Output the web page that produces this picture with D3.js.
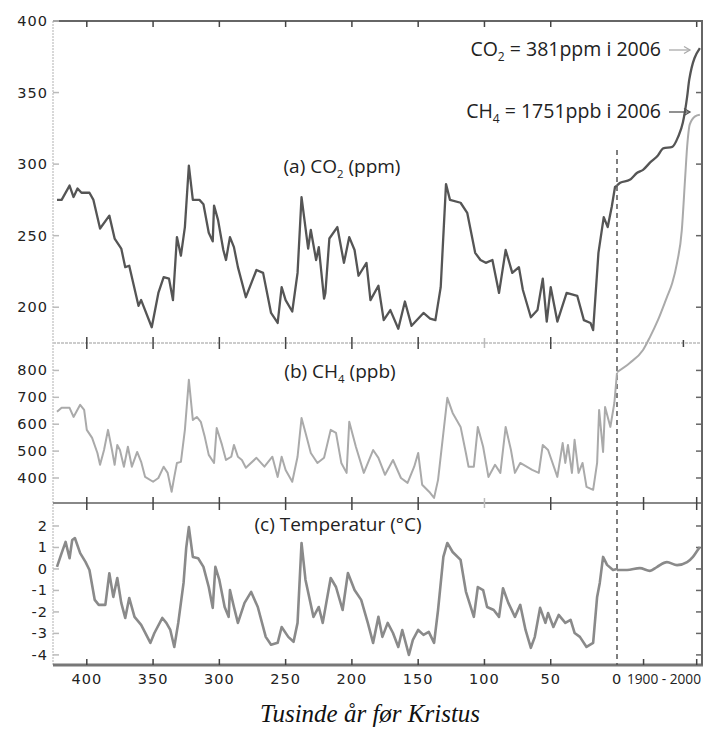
<!DOCTYPE html>
<html>
<head>
<meta charset="utf-8">
<script src="https://cdn.jsdelivr.net/npm/d3@7/dist/d3.min.js"></script>
<style>
  html, body { margin: 0; padding: 0; background: #fff; }
  svg { display: block; }
</style>
</head>
<body>
<svg id="chart" width="705" height="731"></svg>
<script>
// ---------------- DATA ----------------
const ageTicks = [400, 350, 300, 250, 200, 150, 100, 50, 0];
const yearTicks = [1900, 2000];
const co2Ticks = [200, 250, 300, 350, 400];
const ch4Ticks = [400, 500, 600, 700, 800];
const tempTicks = [-4, -3, -2, -1, 0, 1, 2];

// CO2 (ppm), ages in thousand years before present
const co2Ages = [422.5,419,413,410,407,404,398,395,390,383,379,374,371,368,361,359,351,346,342,338,335,332,329,326,323,320,315,312,308,305,304,301,297,295,292,289,286,280,272,267,261,256,253,250,245,241,238,233,231,227,225,221,220,217,211,206,202,198,195,189,186,180,176,171,165,160,155,146,141,137,133,129,126,118,113,107,103,99,94,89,84,79,74,71,65,60,56,53,50,45,38,30,25,20,18,14,10,7,4,1.5,0];
const co2Vals = [275,275,285,277,283,280,280,275,255,264,248,241,228,229,201,205,186,210,221,220,205,249,236,256,299,275,275,272,252,246,271,261,240,233,249,242,228,207,226,224,196,189,214,205,197,224,277,241,254,233,242,206,210,248,256,231,249,240,222,231,205,215,191,198,185,204,187,196,192,191,214,286,275,273,266,238,233,231,233,210,240,224,228,212,193,198,220,190,214,190,210,208,191,189,184,238,263,256,270,284,285];
const co2IndYears = [1850,1856,1874,1888,1899,1912,1927,1937,1954,1965,1974,1982,1986,2006];
const co2IndVals = [285,287,289,294,296,301,306,311,312,319,329,347,359,381];

// CH4 (ppb)
const ch4Ages = [422.5,419,413,410,405,402,400,396,392,390,387,384,381,379,377,375,372,369,366,362,359,356,350,346,342,339,336,334,332,329,326,323,320,317,314,311,308,304,302,298,295,291,289,286,283,280,272,266,260,256,253,250,245,241,238,235,231,226,221,216,212,208,204,202,197,191,184,180,175,169,163,158,153,150,147,141,138,135,128,124,118,114,112,108,105,101,97,92,88,84,80,77,73,64,59,56,52,45,41,39,37,34,32,29,26,23,18,15,13.5,10.5,9,5,2,0];
const ch4Vals = [646,661,661,627,672,653,579,549,493,449,504,579,504,449,523,504,442,516,442,497,460,404,386,400,442,419,349,404,456,460,579,765,616,627,609,553,486,456,586,523,467,479,523,479,467,438,475,442,479,404,479,430,386,479,623,568,493,456,475,579,568,456,419,609,516,419,504,475,412,467,400,382,442,493,375,345,326,393,698,642,590,493,442,442,590,516,404,449,419,590,504,419,456,430,419,523,504,404,530,456,523,419,542,419,456,367,356,456,653,497,664,590,679,791];
const ch4IndYears = [1850,1874,1899,1912,1927,1944,1954,1963,1972,1978,1982,1987,1997,2006];
const ch4IndVals = [794,828,876,924,987,1073,1125,1200,1322,1508,1631,1715,1745,1751];

// Temperature (°C)
const tempAges = [422.5,419,416,413,411,409,405,401,398,394,391,386,383,380,377,374,371,368,364,359,352,349,343,340,337,334,331,327,325,323,320,316,312,308,305,303,300,296,293,292,289,286,281,276,271,265,261,256,253,248,244,241,238,235,229,225,222,216,212,207,203,198,193,188,184,180,177,173,169,165,162,157,154,150,146,142,138,135,131,128,124,118,114,108,105,101,98,93,89,86,82,77,73,69,65,62,58,54,52,48,44,39,35,32,28,23,18,15,13,10.5,7.5,3,0];
const tempVals = [0.1,0.74,1.26,0.5,1.35,1.44,0.74,0.33,-0.05,-1.44,-1.67,-1.67,-0.2,-1.3,-0.42,-1.58,-2.28,-1.35,-2.23,-2.6,-3.44,-2.98,-2.28,-2.51,-2.84,-3.63,-2.51,-0.65,0.98,1.95,0.56,0.5,0.1,-0.84,-1.81,0.1,-0.51,-1.77,-2.23,-0.98,-1.77,-2.51,-1.58,-1.07,-1.77,-3.16,-3.53,-3.44,-2.7,-3.16,-3.39,-2.51,1.21,-0.51,-2.23,-1.77,-2.51,-0.42,-0.84,-1.91,-0.19,-0.98,-1.44,-2.51,-3.44,-2.23,-3.16,-2.51,-2.98,-3.63,-2.84,-4.0,-3.3,-2.84,-3.07,-2.93,-3.44,-1.91,0.56,1.21,0.79,0.42,-1.05,-2.23,-0.84,-0.98,-1.77,-1.91,-2.23,-0.9,-1.58,-2.23,-1.67,-2.84,-3.67,-3.16,-1.81,-2.51,-2.05,-2.7,-2.14,-2.51,-2.37,-2.98,-3.16,-3.63,-3.44,-1.3,-0.65,0.56,0.19,-0.05,0];
const tempIndYears = [1850,1869,1893,1912,1925,1944,1963,1982,1993,2002,2006];
const tempIndVals = [-0.05,-0.05,0.04,-0.09,0.09,0.32,0.18,0.32,0.56,0.88,1.02];

// ---------------- CHART ----------------
const svg = d3.select("#chart");
const L = 53, R = 702, T = 21, SEP1 = 343, SEP2 = 503, B = 665, ZERO = 617;

const xAge = d3.scaleLinear().domain([425.5, 0]).range([L, ZERO]);
const xYear = d3.scaleLinear().domain([1850, 2010]).range([ZERO, R]);
const yCO2 = d3.scaleLinear().domain([175, 400]).range([SEP1, T]);
const yCH4 = d3.scaleLinear().domain([307, 902]).range([SEP2, SEP1]);
const yTemp = d3.scaleLinear().domain([-4.47, 3.07]).range([B, SEP2]);

const tickFont = "'DejaVu Sans', Verdana, sans-serif";
const labFont = "'Open Sans', sans-serif";

// left border (light dotted)
svg.append("line").attr("x1", L).attr("x2", L).attr("y1", T).attr("y2", B)
  .attr("stroke", "#ccc").attr("stroke-width", 1.5).attr("stroke-dasharray", "2,1");

// separators
svg.append("line").attr("x1", L).attr("x2", R).attr("y1", SEP1).attr("y2", SEP1)
  .attr("stroke", "#ccc").attr("stroke-width", 2).attr("stroke-dasharray", "3,1");
svg.append("line").attr("x1", L).attr("x2", R).attr("y1", SEP2).attr("y2", SEP2)
  .attr("stroke", "#888").attr("stroke-width", 2);

// top and bottom border
svg.append("line").attr("x1", L).attr("x2", R).attr("y1", T).attr("y2", T)
  .attr("stroke", "#666").attr("stroke-width", 2);
svg.append("line").attr("x1", L).attr("x2", R + 1).attr("y1", B).attr("y2", B)
  .attr("stroke", "#777").attr("stroke-width", 3);
// right border
svg.append("line").attr("x1", R).attr("x2", R).attr("y1", T - 1).attr("y2", B)
  .attr("stroke", "#666").attr("stroke-width", 2);

// x ticks
const xTickPos = ageTicks.map(a => xAge(a));
const yearTickPos = yearTicks.map(y => xYear(y));
function vTicks(xs, y1, y2, color) {
  svg.append("g").selectAll("line").data(xs).join("line")
    .attr("x1", d => d).attr("x2", d => d).attr("y1", y1).attr("y2", y2)
    .attr("stroke", color).attr("stroke-width", 1.5);
}
vTicks(xTickPos.filter((d, i) => ageTicks[i] !== 0).concat([xYear(2000)]), T, T + 6, "#444");
vTicks(xTickPos.filter((d, i) => ageTicks[i] !== 0 && ageTicks[i] !== 100), SEP1 - 6, SEP1 + 6, "#444");
vTicks([xAge(100)], SEP1 - 5, SEP1 + 5, "#bbb");
vTicks([xYear(1975)], SEP1 - 3, SEP1 + 4, "#444");
vTicks(xTickPos.filter((d, i) => ageTicks[i] !== 0 && ageTicks[i] !== 100).concat(yearTickPos), SEP2 - 6, SEP2 + 7, "#444");
vTicks([xAge(100)], SEP2 - 5, SEP2 + 5, "#bbb");
vTicks(xTickPos.filter((d, i) => ageTicks[i] !== 0).concat(yearTickPos), B - 6, B, "#444");

// y axes (left labels + light ticks, right dark ticks)
function yAxis(scale, ticks) {
  const g = svg.append("g");
  g.selectAll("line.l").data(ticks).join("line").attr("class", "l")
    .attr("x1", L).attr("x2", L + 6).attr("y1", d => scale(d)).attr("y2", d => scale(d))
    .attr("stroke", "#bbb").attr("stroke-width", 1.5);
  g.selectAll("line.r").data(ticks).join("line").attr("class", "r")
    .attr("x1", R - 6).attr("x2", R).attr("y1", d => scale(d)).attr("y2", d => scale(d))
    .attr("stroke", "#666").attr("stroke-width", 1.5);
  g.selectAll("text").data(ticks).join("text")
    .attr("x", 48).attr("y", d => scale(d) + 5)
    .attr("text-anchor", "end")
    .attr("font-family", tickFont).attr("font-size", 14.5)
    .attr("letter-spacing", 1).attr("fill", "#222")
    .text(d => d);
}
yAxis(yCO2, co2Ticks);
yAxis(yCH4, ch4Ticks);
yAxis(yTemp, tempTicks);

// x labels
svg.append("g").selectAll("text").data(ageTicks).join("text")
  .attr("x", d => xAge(d)).attr("y", 684)
  .attr("text-anchor", "middle")
  .attr("font-family", tickFont).attr("font-size", 14.5).attr("letter-spacing", 1)
  .attr("fill", "#222").text(d => d);
svg.append("text").attr("x", 627).attr("y", 684)
  .attr("font-family", labFont).attr("font-size", 14.5)
  .attr("textLength", 74).attr("lengthAdjust", "spacingAndGlyphs")
  .attr("fill", "#222").text(yearTicks[0] + " - " + yearTicks[1]);

// dashed line at 0
svg.append("line").attr("x1", ZERO).attr("x2", ZERO).attr("y1", 150).attr("y2", B)
  .attr("stroke", "#555").attr("stroke-width", 1.5).attr("stroke-dasharray", "5,4");

// series
function drawSeries(ages, vals, years, ivals, y, color, w) {
  const line = d3.line().x(d => d[0]).y(d => d[1]);
  const iline = d3.line().x(d => d[0]).y(d => d[1]).curve(d3.curveMonotoneX);
  const pts = ages.map((a, i) => [xAge(a), y(vals[i])]);
  const ipts = years.map((yr, i) => [xYear(yr), y(ivals[i])]);
  svg.append("path").attr("d", line(pts)).attr("fill", "none")
    .attr("stroke", color).attr("stroke-width", w).attr("stroke-linejoin", "round");
  svg.append("path").attr("d", iline(ipts)).attr("fill", "none")
    .attr("stroke", color).attr("stroke-width", w).attr("stroke-linejoin", "round");
}
drawSeries(tempAges, tempVals, tempIndYears, tempIndVals, yTemp, "#8a8a8a", 2.6);
drawSeries(ch4Ages, ch4Vals, ch4IndYears, ch4IndVals, yCH4, "#aaaaaa", 2);
drawSeries(co2Ages, co2Vals, co2IndYears, co2IndVals, yCO2, "#555555", 2.3);

// panel labels
function label(x, y, parts, size) {
  const t = svg.append("text").attr("x", x).attr("y", y).attr("text-anchor", "middle")
    .attr("font-family", labFont).attr("font-size", size).attr("fill", "#222");
  parts.forEach(p => {
    const ts = t.append("tspan").text(p.t);
    if (p.sub) ts.attr("font-size", size * 0.6).attr("dy", 5);
    if (p.after) ts.attr("dy", -5);
  });
  return t;
}
label(342, 173, [{t: "(a) CO"}, {t: "2", sub: true}, {t: " (ppm)", after: true}], 19);
label(340, 378, [{t: "(b) CH"}, {t: "4", sub: true}, {t: " (ppb)", after: true}], 19);
label(338, 531, [{t: "(c) Temperatur (°C)"}], 19);

// annotations
function annot(y, parts) {
  const t = svg.append("text").attr("x", 661).attr("y", y).attr("text-anchor", "end")
    .attr("font-family", labFont).attr("font-size", 19.5).attr("fill", "#222");
  parts.forEach(p => {
    const ts = t.append("tspan").text(p.t);
    if (p.sub) ts.attr("font-size", 12).attr("dy", 5);
    if (p.after) ts.attr("dy", -5);
  });
}
annot(56, [{t: "CO"}, {t: "2", sub: true}, {t: " = 381ppm i 2006", after: true}]);
annot(118, [{t: "CH"}, {t: "4", sub: true}, {t: " = 1751ppb i 2006", after: true}]);

function arrow(y, color) {
  svg.append("line").attr("x1", 669).attr("x2", 690).attr("y1", y).attr("y2", y)
    .attr("stroke", color).attr("stroke-width", 1.3);
  svg.append("path").attr("d", `M${684},${y - 3.5} L${690},${y} L${684},${y + 3.5}`)
    .attr("fill", "none").attr("stroke", color).attr("stroke-width", 1.3);
}
arrow(50, "#aaa");
arrow(112, "#555");

// x title
svg.append("text").attr("x", 370).attr("y", 722).attr("text-anchor", "middle")
  .attr("font-family", "'Liberation Serif', 'DejaVu Serif', serif")
  .attr("font-style", "italic").attr("font-size", 25).attr("fill", "#111")
  .text("Tusinde år før Kristus");
</script>
</body>
</html>
